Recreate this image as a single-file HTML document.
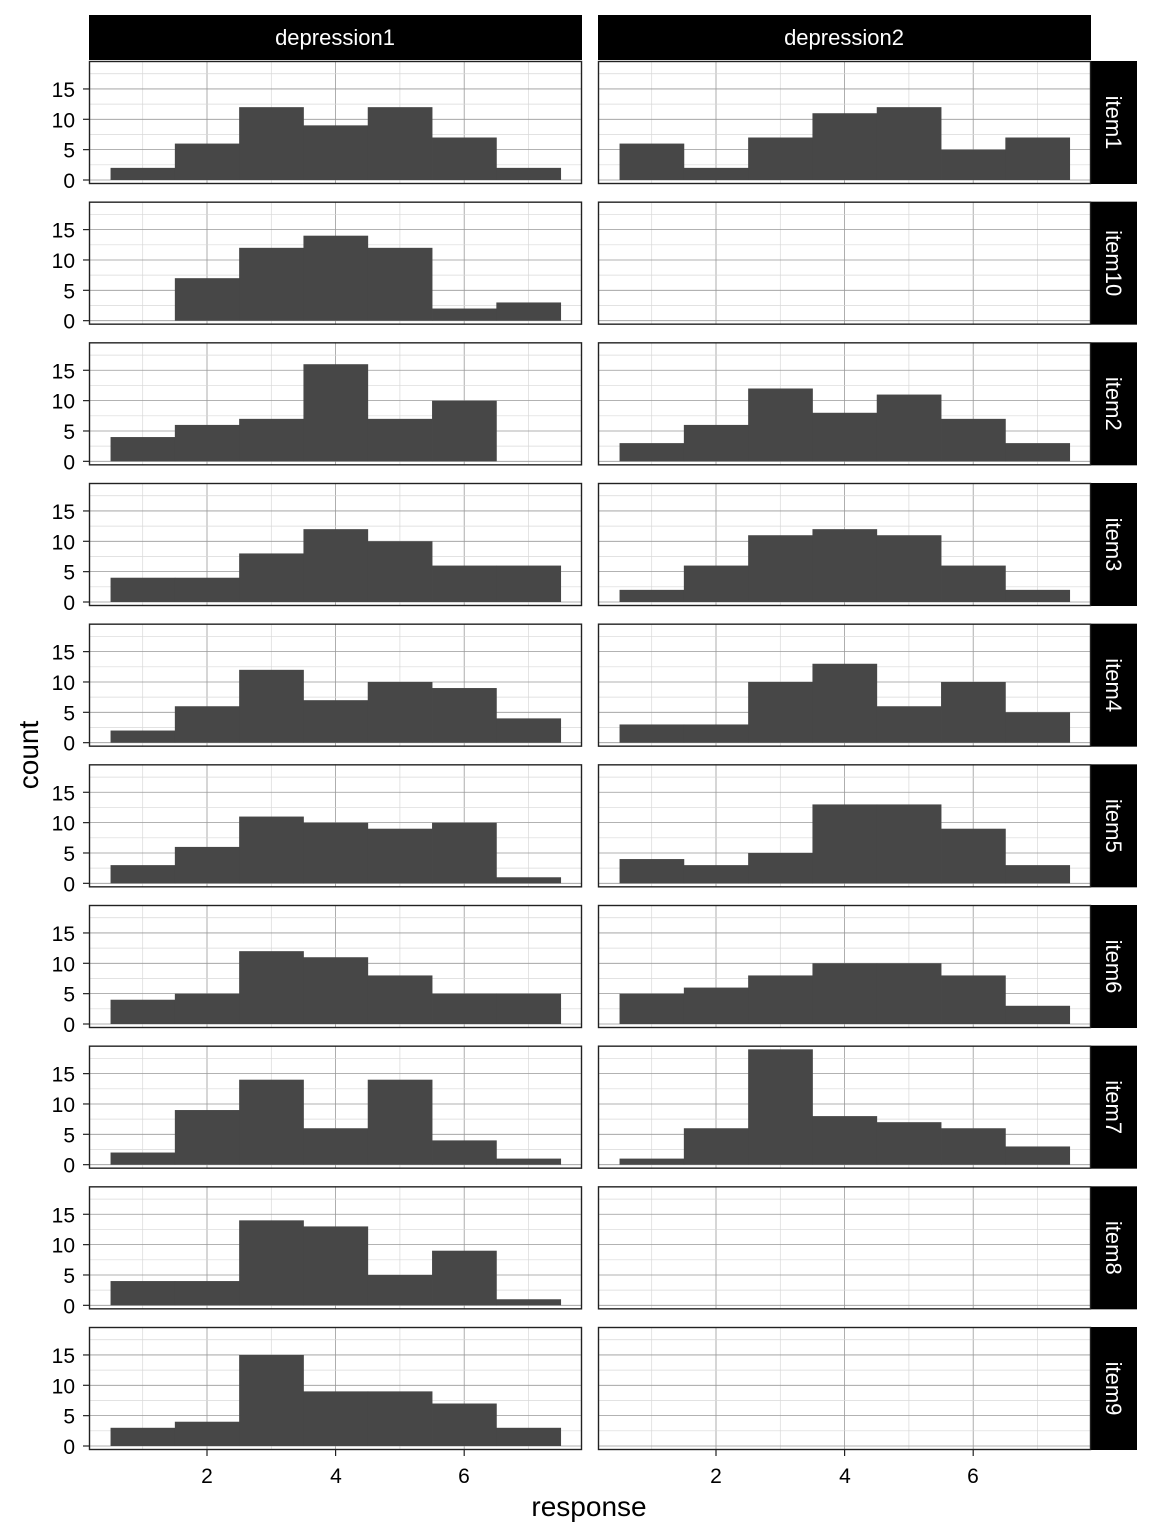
<!DOCTYPE html>
<html><head><meta charset="utf-8"><style>
html,body{margin:0;padding:0;background:#fff}
svg{display:block}
text{font-family:"Liberation Sans",sans-serif}
</style></head><body>
<svg id="s" width="1152" height="1536" viewBox="0 0 1152 1536" xmlns="http://www.w3.org/2000/svg">
<g id="geo"></g>
<rect x="89" y="15" width="493" height="45" fill="#000"/>
<rect x="598" y="15" width="493" height="45" fill="#000"/>
<text x="335" y="45" font-size="22" fill="#fff" text-anchor="middle">depression1</text>
<text x="844" y="45" font-size="22" fill="#fff" text-anchor="middle">depression2</text>
<g font-size="21" fill="#000" text-anchor="end">
<g transform="translate(0,61)"><text x="75" y="127">0</text><text x="75" y="96.6">5</text><text x="75" y="66.3">10</text><text x="75" y="36">15</text></g>
<g transform="translate(0,201.67)"><text x="75" y="127">0</text><text x="75" y="96.6">5</text><text x="75" y="66.3">10</text><text x="75" y="36">15</text></g>
<g transform="translate(0,342.33)"><text x="75" y="127">0</text><text x="75" y="96.6">5</text><text x="75" y="66.3">10</text><text x="75" y="36">15</text></g>
<g transform="translate(0,483)"><text x="75" y="127">0</text><text x="75" y="96.6">5</text><text x="75" y="66.3">10</text><text x="75" y="36">15</text></g>
<g transform="translate(0,623.67)"><text x="75" y="127">0</text><text x="75" y="96.6">5</text><text x="75" y="66.3">10</text><text x="75" y="36">15</text></g>
<g transform="translate(0,764.33)"><text x="75" y="127">0</text><text x="75" y="96.6">5</text><text x="75" y="66.3">10</text><text x="75" y="36">15</text></g>
<g transform="translate(0,905)"><text x="75" y="127">0</text><text x="75" y="96.6">5</text><text x="75" y="66.3">10</text><text x="75" y="36">15</text></g>
<g transform="translate(0,1045.67)"><text x="75" y="127">0</text><text x="75" y="96.6">5</text><text x="75" y="66.3">10</text><text x="75" y="36">15</text></g>
<g transform="translate(0,1186.33)"><text x="75" y="127">0</text><text x="75" y="96.6">5</text><text x="75" y="66.3">10</text><text x="75" y="36">15</text></g>
<g transform="translate(0,1327)"><text x="75" y="127">0</text><text x="75" y="96.6">5</text><text x="75" y="66.3">10</text><text x="75" y="36">15</text></g>
</g>
<g font-size="22" fill="#fff" text-anchor="middle">
<text transform="translate(1106,122.5) rotate(90)">item1</text>
<text transform="translate(1106,263.2) rotate(90)">item10</text>
<text transform="translate(1106,403.8) rotate(90)">item2</text>
<text transform="translate(1106,544.5) rotate(90)">item3</text>
<text transform="translate(1106,685.2) rotate(90)">item4</text>
<text transform="translate(1106,825.8) rotate(90)">item5</text>
<text transform="translate(1106,966.5) rotate(90)">item6</text>
<text transform="translate(1106,1107.2) rotate(90)">item7</text>
<text transform="translate(1106,1247.8) rotate(90)">item8</text>
<text transform="translate(1106,1388.5) rotate(90)">item9</text>
</g>
<g font-size="21" fill="#000" text-anchor="middle">
<text x="207" y="1483">2</text><text x="336" y="1483">4</text><text x="464" y="1483">6</text>
<text x="716" y="1483">2</text><text x="845" y="1483">4</text><text x="973" y="1483">6</text>
</g>
<text x="589" y="1516" font-size="28" text-anchor="middle">response</text>
<text transform="translate(38,755) rotate(-90)" font-size="28" text-anchor="middle">count</text>
</svg>
<script>
(function(){
var NS="http://www.w3.org/2000/svg",g=document.getElementById("geo");
function el(n,a){var e=document.createElementNS(NS,n);for(var k in a)e.setAttribute(k,a[k]);g.appendChild(e);return e;}
var d1=[[2,6,12,9,12,7,2],[0,7,12,14,12,2,3],[4,6,7,16,7,10,0],[4,4,8,12,10,6,6],[2,6,12,7,10,9,4],[3,6,11,10,9,10,1],[4,5,12,11,8,5,5],[2,9,14,6,14,4,1],[4,4,14,13,5,9,1],[3,4,15,9,9,7,3]];
var d2=[[6,2,7,11,12,5,7],null,[3,6,12,8,11,7,3],[2,6,11,12,11,6,2],[3,3,10,13,6,10,5],[4,3,5,13,13,9,3],[5,6,8,10,10,8,3],[1,6,19,8,7,6,3],null,null];
var ux=64.3,uy=6.07,H=123,W=493;
for(var i=0;i<10;i++){
 var T=61+i*140.667;
 el("rect",{x:1091,y:T,width:46,height:H,fill:"#000"});
 [[89,d1[i]],[598,d2[i]]].forEach(function(p){
  var L=p[0],data=p[1];
  var x0=L+118-ux*2;
  var z=T+119;
  el("rect",{x:L,y:T,width:W,height:H,fill:"#fff"});
  for(var v=1;v<=7;v++){var X=x0+v*ux;el("line",{x1:X,x2:X,y1:T,y2:T+H,stroke:v%2?"#d8d8d8":"#999","stroke-width":v%2?0.7:0.8});}
  for(var k=0;k<8;k++){var Y=z-k*2.5*uy;el("line",{x1:L,x2:L+W,y1:Y,y2:Y,stroke:k%2?"#d8d8d8":"#999","stroke-width":k%2?0.7:0.8});}
  if(data){for(var b=0;b<7;b++){if(!data[b])continue;var h=data[b]*uy;el("rect",{x:x0+(b+0.5)*ux,y:z-h,width:ux+0.4,height:h,fill:"#474747"});}}
  el("rect",{x:L+0.5,y:T+0.5,width:W-1,height:H-1,fill:"none",stroke:"#222","stroke-width":1.4});
  if(L==89){for(var k=0;k<4;k++){var Y=z-k*5*uy;el("line",{x1:83,x2:89,y1:Y,y2:Y,stroke:"#222","stroke-width":1.2});}}
  if(i==9){for(var v=2;v<=6;v+=2){var X=x0+v*ux;el("line",{x1:X,x2:X,y1:T+H,y2:T+H+6,stroke:"#222","stroke-width":1.2});}}
 });
}
})();
</script>
</body></html>
